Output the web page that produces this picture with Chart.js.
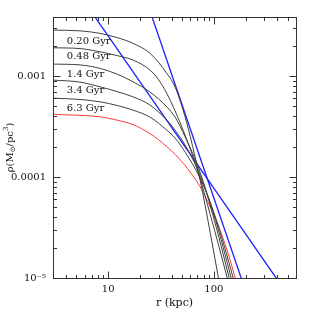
<!DOCTYPE html>
<html><head><meta charset="utf-8">
<script src="https://cdn.jsdelivr.net/npm/chart.js@4/dist/chart.umd.min.js"></script>
<style>html,body{margin:0;padding:0;background:#fff}#wrap{width:312px;height:312px}</style>
</head><body><div id="wrap"><canvas id="c" width="312" height="312"></canvas></div>
<script>
// ---- data ----
const ageLabels = ['0.20 Gyr', '0.48 Gyr', '1.4 Gyr', '3.4 Gyr', '6.3 Gyr'];
const labelR = [4.05, 4.05, 4.05, 4.05, 4.05];
const labelRho = [2.22e-3, 1.55e-3, 1.047e-3, 7.15e-4, 4.79e-4];

const r1 = [3, 5.41, 8.37, 12.13, 17.2, 24.9, 35.9, 43.0, 51.2, 59.7, 74.2, 92.3, 110.6];
const rho1 = [2.858e-3, 2.806e-3, 2.651e-3, 2.408e-3, 2.110e-3, 1.680e-3, 1.064e-3, 7.78e-4, 4.60e-4, 2.541e-4, 9.31e-5, 2.838e-5, 1.0e-5];
const r2 = [3, 5.41, 8.37, 12.13, 17.2, 24.9, 29.7, 35.9, 51.2, 71.0, 92.3, 112.3, 133.8];
const rho2 = [1.909e-3, 1.874e-3, 1.741e-3, 1.597e-3, 1.441e-3, 1.147e-3, 9.34e-4, 6.74e-4, 2.914e-4, 1.117e-4, 4.28e-5, 2.016e-5, 1.0e-5];
const r3 = [3, 5.41, 8.37, 12.13, 17.2, 24.9, 35.9, 43.0, 53.5, 74.2, 96.4, 117.4, 139.8];
const rho3 = [1.315e-3, 1.291e-3, 1.192e-3, 1.047e-3, 8.78e-4, 6.94e-4, 4.96e-4, 3.92e-4, 2.50e-4, 1.117e-4, 4.48e-5, 2.063e-5, 1.0e-5];
const r4 = [3, 5.41, 8.37, 12.13, 17.2, 24.9, 35.9, 43.0, 53.5, 74.2, 98.6, 122.6, 146.0];
const rho4 = [9.13e-4, 8.72e-4, 7.83e-4, 7.02e-4, 6.23e-4, 5.16e-4, 3.66e-4, 2.914e-4, 2.069e-4, 1.043e-4, 4.48e-5, 2.016e-5, 1.0e-5];
const r5 = [3, 5.41, 8.37, 12.13, 17.2, 24.9, 35.9, 43.0, 53.5, 74.2, 100.7, 128.1, 152.5];
const rho5 = [6.05e-4, 5.87e-4, 5.56e-4, 5.12e-4, 4.60e-4, 3.92e-4, 2.914e-4, 2.427e-4, 1.764e-4, 9.74e-5, 4.38e-5, 1.926e-5, 1.0e-5];
const rRed = [3, 5.41, 8.37, 12.13, 17.2, 24.9, 35.9, 51.5, 74.2, 92.3, 114.8, 142.8, 159.3];
const rhoRed = [4.17e-4, 4.087e-4, 3.95e-4, 3.66e-4, 3.305e-4, 2.69e-4, 2.0e-4, 1.363e-4, 7.99e-5, 5.06e-5, 2.97e-5, 1.498e-5, 1.0e-5];
const rBlueA = [6, 450];
const rhoBlueA = [5.39e-3, 8.05e-6];
const rBlueB = [22, 200];
const rhoBlueB = [6.45e-3, 7.44e-6];

const xMajor = [10, 100];
const xMinor = [4,5,6,7,8,9,20,30,40,50,60,70,80,90,200,300,400,500];
const yMajor = [1e-5, 1e-4, 1e-3];
const yMinor = [2e-5,3e-5,4e-5,5e-5,6e-5,7e-5,8e-5,9e-5,2e-4,3e-4,4e-4,5e-4,6e-4,7e-4,8e-4,9e-4,2e-3,3e-3];
const yTickText = {'0.00001': '10\u207B\u2075', '0.0001': '0.0001', '0.001': '0.001'};

const pts = (rs, ys) => rs.map((r, i) => ({x: r, y: ys[i]}));
const FONT = 'DejaVu Serif';

function line(data, color, w) {
  return {data, borderColor: color, borderWidth: w, pointRadius: 0, fill: false,
          cubicInterpolationMode: 'monotone', showLine: true};
}

const frameTicks = {
  id: 'frameTicks',
  afterDraw(chart) {
    const {ctx, chartArea: a, scales: {x, y}} = chart;
    ctx.save();
    ctx.strokeStyle = '#333';
    ctx.lineWidth = 1;
    const L = Math.round(a.left) + 0.5, R = Math.round(a.right) + 0.5;
    const T = Math.round(a.top) + 0.5, B = Math.round(a.bottom) + 0.5;
    ctx.strokeRect(L, T, R - L, B - T);
    ctx.beginPath();
    const xt = (v, len) => { const p = Math.round(x.getPixelForValue(v)) + 0.5;
      ctx.moveTo(p, B); ctx.lineTo(p, B - len); ctx.moveTo(p, T); ctx.lineTo(p, T + len); };
    const yt = (v, len) => { const p = Math.round(y.getPixelForValue(v)) + 0.5;
      ctx.moveTo(L, p); ctx.lineTo(L + len, p); ctx.moveTo(R, p); ctx.lineTo(R - len, p); };
    xMajor.forEach(v => xt(v, 7)); xMinor.forEach(v => xt(v, 3.5));
    yMajor.forEach(v => yt(v, 7)); yMinor.forEach(v => yt(v, 3.5));
    ctx.stroke();

    ctx.fillStyle = '#111';
    ctx.font = '10px "' + FONT + '"';
    ctx.textBaseline = 'middle';
    ctx.textAlign = 'left';
    ageLabels.forEach((t, i) => ctx.fillText(t, x.getPixelForValue(labelR[i]), y.getPixelForValue(labelRho[i])));

    // y-axis title with subscript sun symbol and superscript 3
    const parts = [['\u03C1(M', 0, 10], ['\u2299', 3, 7], ['/pc', 0, 10], ['3', -3.5, 7], [')', 0, 10]];
    let total = 0;
    parts.forEach(p => { ctx.font = p[2] + 'px "' + FONT + '"'; p.push(ctx.measureText(p[0]).width); total += p[3]; });
    ctx.translate(10, (a.top + a.bottom) / 2);
    ctx.rotate(-Math.PI / 2);
    let cx = -total / 2;
    parts.forEach(p => { ctx.font = p[2] + 'px "' + FONT + '"'; ctx.fillText(p[0], cx, p[1]); cx += p[3]; });
    ctx.restore();
  }
};

new Chart(document.getElementById('c'), {
  type: 'scatter',
  data: {datasets: [
    line(pts(r1, rho1), '#404040', 1),
    line(pts(r2, rho2), '#404040', 1),
    line(pts(r3, rho3), '#404040', 1),
    line(pts(r4, rho4), '#404040', 1),
    line(pts(r5, rho5), '#404040', 1),
    line(pts(rRed, rhoRed), '#ff3a3a', 1),
    line(pts(rBlueA, rhoBlueA), '#1f1fff', 1.3),
    line(pts(rBlueB, rhoBlueB), '#1f1fff', 1.3),
  ]},
  options: {
    responsive: false, animation: false, devicePixelRatio: 1,
    layout: {padding: {top: 17, right: 16, left: 0, bottom: 0}},
    plugins: {legend: {display: false}, tooltip: {enabled: false}},
    scales: {
      x: {type: 'logarithmic', min: 3, max: 600,
          grid: {display: false, drawTicks: false}, border: {display: false},
          afterBuildTicks: s => { s.ticks = xMajor.map(v => ({value: v})); },
          afterFit: s => { s.height = 34; },
          ticks: {font: {family: FONT, size: 10}, color: '#111', padding: 5, maxRotation: 0,
                  callback: v => String(v)},
          title: {display: true, text: 'r (kpc)', font: {family: FONT, size: 11}, color: '#111',
                  padding: {top: 0, bottom: 2}}},
      y: {type: 'logarithmic', min: 1e-5, max: 3.85e-3,
          grid: {display: false, drawTicks: false}, border: {display: false},
          afterBuildTicks: s => { s.ticks = yMajor.map(v => ({value: v})); },
          afterFit: s => { s.width = 53; },
          ticks: {font: {family: FONT, size: 10}, color: '#111', padding: 7,
                  callback: v => yTickText[String(v)] || String(v)},
          title: {display: false}}
    }
  },
  plugins: [frameTicks]
});
</script></body></html>
